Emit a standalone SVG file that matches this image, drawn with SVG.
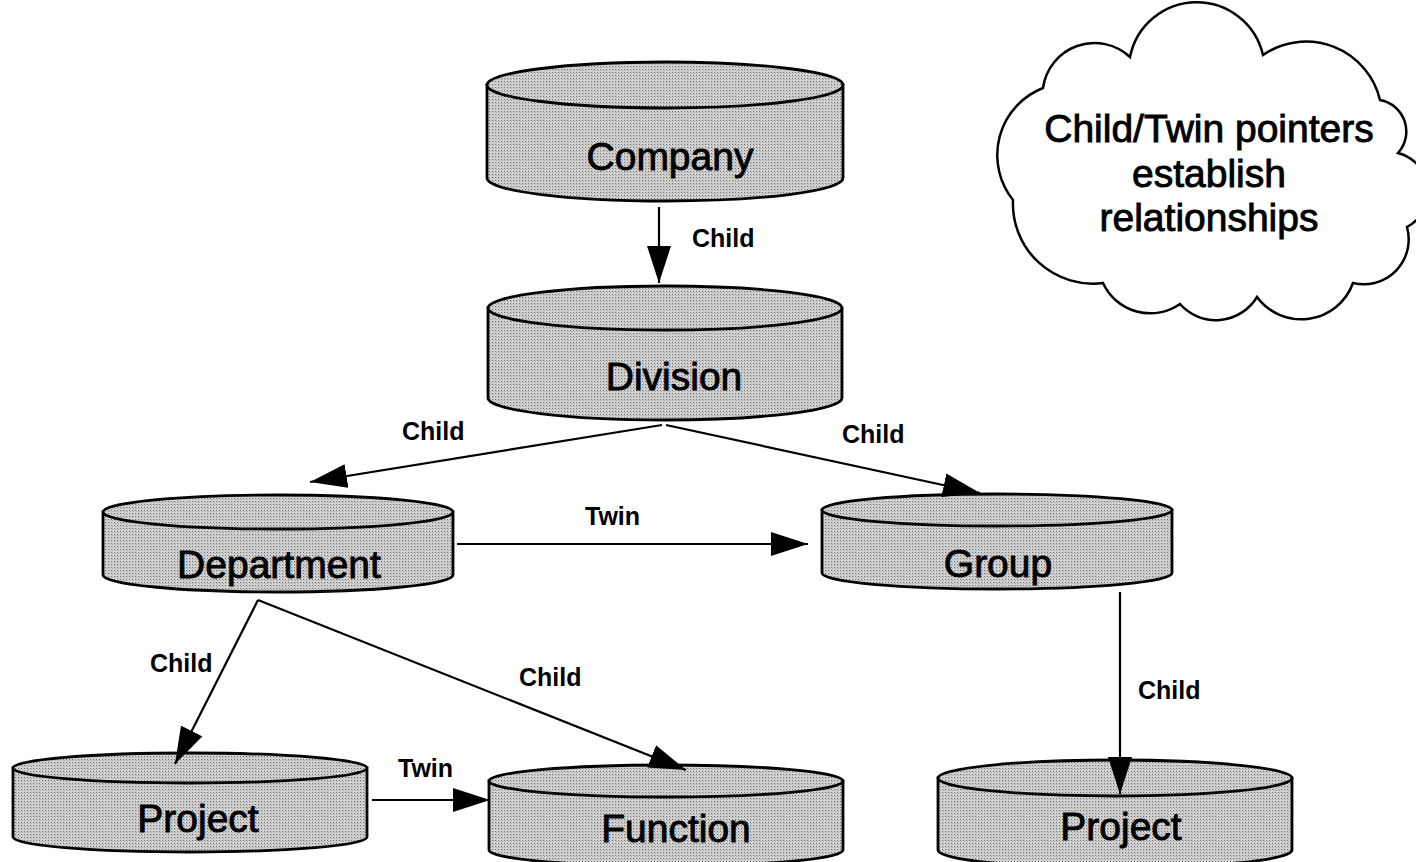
<svg xmlns="http://www.w3.org/2000/svg" width="1416" height="862" viewBox="0 0 1416 862">
  <style>
    .body { fill: url(#dots); stroke: #000; stroke-width: 2.8; }
    .lid { fill: url(#dots); stroke: #000; stroke-width: 2.8; }
    .name { font-family: "Liberation Sans", Arial, sans-serif; font-size: 39px; fill: #000; stroke: #000; stroke-width: 0.9; text-anchor: middle; }
    .lbl { font-family: "Liberation Sans", Arial, sans-serif; font-size: 25px; font-weight: bold; fill: #000; }
    .edge { fill: none; stroke: #000; stroke-width: 2.2; marker-end: url(#head); }
    .cloud { fill: #fff; stroke: #000; stroke-width: 2.5; }
    .note { font-family: "Liberation Sans", Arial, sans-serif; font-size: 39px; fill: #000; stroke: #000; stroke-width: 0.9; text-anchor: middle; }
  </style>
  <defs>
    <!-- halftone grey fill used on every cylinder -->
    <pattern id="dots" width="3" height="3" patternUnits="userSpaceOnUse">
      <rect width="3" height="3" fill="#d2d2d2"/>
      <rect width="1" height="1" fill="#6e6e6e"/>
      <rect x="1" y="1" width="1" height="1" fill="#a8a8a8"/>
    </pattern>
    <marker id="head" markerUnits="userSpaceOnUse" markerWidth="37" markerHeight="24" refX="37" refY="12" orient="auto">
      <path d="M0,0 L37,12 L0,24 z" fill="#000"/>
    </marker>
  </defs>

  <rect width="1416" height="862" fill="#fff"/>

  <!-- cylinders -->
  <g id="company">
    <path class="body" d="M487,85 L487,178 A178,23 0 0 0 843,178 L843,85 z"/>
    <ellipse class="lid" cx="665" cy="85" rx="178" ry="23"/>
    <text class="name" x="670" y="170">Company</text>
  </g>

  <g id="division">
    <path class="body" d="M488,308 L488,398 A177,22 0 0 0 842,398 L842,308 z"/>
    <ellipse class="lid" cx="665" cy="308" rx="177" ry="22"/>
    <text class="name" x="674" y="390">Division</text>
  </g>

  <g id="department">
    <path class="body" d="M103,512 L103,575 A175,17 0 0 0 453,575 L453,512 z"/>
    <ellipse class="lid" cx="278" cy="512" rx="175" ry="17"/>
    <text class="name" x="279" y="578">Department</text>
  </g>

  <g id="group">
    <path class="body" d="M822,510 L822,573 A175,16 0 0 0 1172,573 L1172,510 z"/>
    <ellipse class="lid" cx="997" cy="510" rx="175" ry="16"/>
    <text class="name" x="998" y="577">Group</text>
  </g>

  <g id="project-left">
    <path class="body" d="M13,768 L13,837 A177,15 0 0 0 367,837 L367,768 z"/>
    <ellipse class="lid" cx="190" cy="768" rx="177" ry="15"/>
    <text class="name" x="198" y="832">Project</text>
  </g>

  <g id="function">
    <path class="body" d="M489,781 L489,850 A177,16 0 0 0 843,850 L843,781 z"/>
    <ellipse class="lid" cx="666" cy="781" rx="177" ry="16"/>
    <text class="name" x="676" y="842">Function</text>
  </g>

  <g id="project-right">
    <path class="body" d="M938,778 L938,850 A177,18 0 0 0 1292,850 L1292,778 z"/>
    <ellipse class="lid" cx="1115" cy="778" rx="177" ry="18"/>
    <text class="name" x="1121" y="840">Project</text>
  </g>

  <!-- connectors, drawn over the lids so the heads stay visible -->
  <g id="connectors">
    <path class="edge" d="M659,207 L659,283"/>
    <path class="edge" d="M662,425 L310,482"/>
    <path class="edge" d="M666,425 L980,493"/>
    <path class="edge" d="M457,544 L808,544"/>
    <path class="edge" d="M258,600 L175,764"/>
    <path class="edge" d="M258,600 L686,770"/>
    <path class="edge" d="M372,800 L490,800"/>
    <path class="edge" d="M1120,592 L1120,794"/>
    <text class="lbl" x="692" y="247">Child</text>
    <text class="lbl" x="402" y="440">Child</text>
    <text class="lbl" x="842" y="443">Child</text>
    <text class="lbl" x="585" y="525">Twin</text>
    <text class="lbl" x="150" y="672">Child</text>
    <text class="lbl" x="519" y="686">Child</text>
    <text class="lbl" x="398" y="777">Twin</text>
    <text class="lbl" x="1138" y="699">Child</text>
  </g>

  <!-- note cloud -->
  <g id="note">
    <path class="cloud" d="M1043,88
      A52,52 0 0 1 1130,57
      A68,68 0 0 1 1263,55
      A76,76 0 0 1 1380,100
      A32,32 0 0 1 1398,153
      A40,40 0 0 1 1407,227
      A45,45 0 0 1 1353,283
      A55,55 0 0 1 1257,297
      A48,48 0 0 1 1180,304
      A52,52 0 0 1 1103,283
      A80,80 0 0 1 1013,200
      A72,72 0 0 1 1043,88 z"/>
    <text class="note" x="1209" y="142">Child/Twin pointers</text>
    <text class="note" x="1209" y="187">establish</text>
    <text class="note" x="1209" y="231">relationships</text>
  </g>
</svg>
